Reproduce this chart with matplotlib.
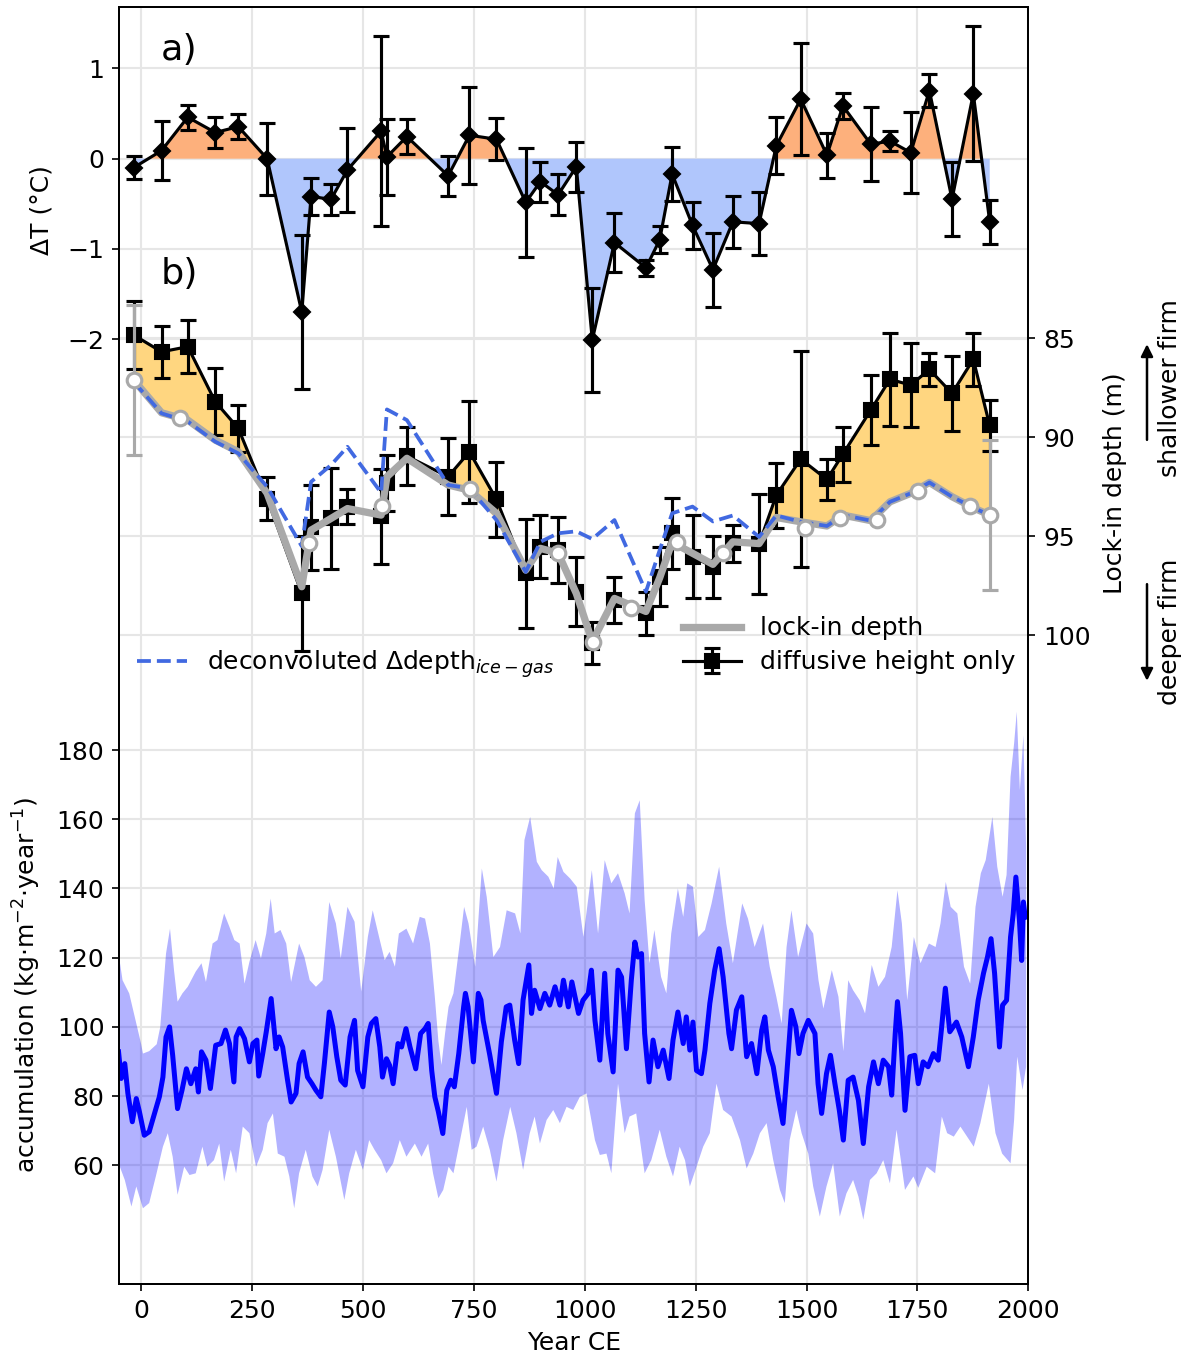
import numpy as np
import matplotlib
matplotlib.use('Agg')
import matplotlib.pyplot as plt

# ---- panel a/b: sample ages (Year CE) ----
years = [-17, 46, 105, 167, 219, 284, 362, 383, 428, 465,
         541, 554, 599, 692, 740, 801, 867, 900, 940, 981,
         1017, 1067, 1138, 1169, 1197, 1243, 1289, 1334, 1393, 1432,
         1487, 1546, 1582, 1645, 1688, 1735, 1777, 1828, 1876, 1913]

# a) temperature anomaly
dT = [-0.10, 0.09, 0.46, 0.29, 0.355, 0.0, -1.70, -0.42, -0.45, -0.125,
      0.305, 0.02, 0.245, -0.19, 0.26, 0.215, -0.485, -0.255, -0.40, -0.09,
      -2.01, -0.93, -1.21, -0.90, -0.17, -0.74, -1.23, -0.70, -0.72, 0.145,
      0.66, 0.04, 0.585, 0.16, 0.195, 0.067, 0.755, -0.45, 0.72, -0.70]
dT_err = [0.13, 0.33, 0.14, 0.17, 0.135, 0.40, 0.85, 0.205, 0.17, 0.47,
          1.05, 0.425, 0.195, 0.22, 0.54, 0.235, 0.60, 0.22, 0.23, 0.275,
          0.58, 0.325, 0.09, 0.15, 0.30, 0.26, 0.41, 0.285, 0.35, 0.32,
          0.62, 0.25, 0.14, 0.41, 0.11, 0.45, 0.18, 0.41, 0.75, 0.245]

# b) lock-in depth
depth_diff = [84.83, 85.68, 85.42, 88.2, 89.55, 93.1, 97.89, 94.55, 94.1, 93.5,
              94.0, 92.3, 90.95, 91.99, 90.73, 93.14, 96.88, 95.53, 95.7, 97.8,
              100.4, 98.22, 98.9, 97.04, 94.85, 96.03, 96.54, 95.36, 95.4, 92.92,
              91.1, 92.13, 90.85, 88.62, 87.07, 87.36, 86.57, 87.78, 86.06, 89.4]
depth_diff_err = [1.73, 1.32, 1.35, 1.68, 1.18, 1.07, 2.9, 2.15, 2.57, 0.9,
                  2.4, 1.4, 1.47, 1.94, 2.57, 1.9, 2.74, 1.6, 1.66, 1.75,
                  1.05, 1.18, 1.1, 1.5, 1.8, 2.1, 1.56, 0.93, 2.53, 1.64,
                  5.45, 1.05, 1.39, 1.77, 2.36, 2.13, 0.84, 1.91, 1.35, 1.3]
depth_lockin = [87.1, 88.76, 89.13, 90.14, 90.73, 92.83, 97.55, 94.69, 94.1, 93.6,
                93.93, 91.99, 91.06, 92.41, 92.67, 93.84, 96.71, 95.61, 95.86, 97.89,
                100.33, 98.14, 98.8, 97.1, 95.3, 95.86, 96.42, 95.28, 95.37, 94.05,
                94.27, 94.48, 93.93, 94.21, 93.26, 92.83, 92.28, 93.0, 93.56, 93.93]
depth_deconv = [87.19, 88.79, 89.2, 90.22, 90.81, 92.5, 95.5, 92.25, 91.4, 90.48,
                92.8, 88.59, 89.13, 92.41, 92.58, 94.18, 96.8, 95.28, 94.85, 94.75,
                95.14, 94.18, 97.8, 95.7, 93.84, 93.5, 94.25, 93.95, 95.03, 93.95,
                94.27, 94.48, 93.93, 94.21, 93.26, 92.83, 92.28, 93.0, 93.56, 93.93]
circ_years = [-17, 87, 379, 544, 741, 940, 1019, 1105, 1207, 1312,
              1496, 1575, 1659, 1752, 1869, 1913]
circ_depth = [87.1, 89.04, 95.36, 93.47, 92.63, 95.86, 100.33, 98.6, 95.28, 95.86,
              94.57, 94.07, 94.18, 92.7, 93.47, 93.93]
circ_err_years = [-17, 1913]
circ_err_depth = [87.1, 93.93]
circ_err = [3.8, 3.8]

# ---- panel c: accumulation ----
acc_years = [-51, -45, -37, -30, -20, -11, -4, 7, 18, 30, 41, 49, 56, 64, 71, 82, 92, 102, 112, 123,
             129, 136, 146, 156, 168, 180, 190, 199, 209, 214, 222, 233, 244, 252, 261, 265, 274, 282, 293, 304,
             311, 319, 330, 338, 349, 356, 365, 375, 385, 394, 405, 413, 424, 432, 441, 450, 460, 471, 481, 488,
             500, 511, 519, 529, 538, 544, 553, 560, 568, 579, 587, 597, 606, 619, 630, 640, 647, 655, 662, 670,
             680, 689, 698, 706, 716, 727, 731, 737, 749, 760, 766, 771, 786, 801, 812, 823, 831, 842, 851, 861,
             874, 880, 887, 899, 910, 921, 933, 944, 952, 963, 971, 986, 996, 1008, 1015, 1023, 1034, 1045, 1052, 1064,
             1075, 1083, 1094, 1105, 1113, 1120, 1128, 1135, 1145, 1154, 1165, 1177, 1190, 1199, 1210, 1222, 1229, 1237, 1244, 1252,
             1263, 1271, 1282, 1293, 1303, 1312, 1325, 1331, 1342, 1354, 1365, 1376, 1388, 1399, 1406, 1414, 1425, 1436, 1447, 1455,
             1466, 1476, 1483, 1492, 1504, 1519, 1526, 1534, 1545, 1554, 1564, 1574, 1583, 1594, 1605, 1617, 1628, 1640, 1651, 1662,
             1673, 1685, 1692, 1700, 1705, 1712, 1722, 1733, 1744, 1752, 1763, 1774, 1786, 1797, 1804, 1813, 1823, 1838, 1850, 1865,
             1876, 1887, 1899, 1908, 1916, 1924, 1935, 1942, 1951, 1960, 1966, 1972, 1980, 1985, 1989, 1993]
acc_mean = [92.8, 85.1, 89.4, 80.8, 72.6, 79.3, 75.5, 68.7, 69.7, 75.0, 79.8, 85.5, 97.1, 100.0, 91.8, 76.4, 81.7, 87.9, 83.6, 87.9,
            81.2, 92.8, 90.4, 82.2, 94.7, 95.2, 99.1, 95.2, 84.1, 97.1, 99.5, 96.6, 89.9, 95.2, 96.2, 85.8, 92.3, 98.6, 108.2, 93.7,
            97.1, 94.2, 84.6, 78.3, 80.8, 89.4, 92.8, 85.5, 83.6, 81.7, 79.8, 89.4, 104.3, 100.0, 91.4, 84.6, 83.2, 97.1, 101.9, 87.4,
            82.7, 97.1, 101.0, 102.4, 94.2, 85.5, 90.8, 88.9, 83.6, 95.2, 94.2, 99.5, 94.2, 87.9, 98.1, 99.5, 101.0, 87.4, 79.8, 75.5,
            69.2, 81.7, 84.6, 82.7, 92.3, 105.8, 109.7, 105.8, 89.9, 109.7, 107.8, 101.9, 91.8, 80.8, 95.7, 105.8, 106.3, 96.2, 89.4, 107.8,
            117.9, 103.9, 110.6, 105.3, 109.7, 106.3, 111.6, 106.3, 113.5, 105.8, 113.0, 103.9, 107.7, 109.7, 116.4, 101.9, 90.4, 115.5, 98.1, 87.0,
            116.4, 114.4, 93.7, 113.5, 124.5, 120.2, 121.2, 98.1, 84.1, 96.2, 88.5, 93.3, 85.1, 96.2, 104.3, 95.2, 102.9, 93.3, 101.4, 87.4,
            86.5, 93.3, 106.8, 116.4, 122.6, 114.4, 98.1, 93.7, 104.9, 108.7, 91.4, 95.2, 86.5, 99.1, 102.9, 93.3, 88.5, 79.8, 72.1, 85.5,
            104.8, 100.0, 92.3, 98.1, 101.9, 98.1, 83.6, 75.0, 86.5, 91.8, 83.6, 75.9, 67.3, 84.6, 85.5, 78.8, 66.3, 82.7, 89.9, 83.6,
            90.4, 88.5, 80.3, 98.1, 107.3, 98.1, 75.9, 91.4, 91.8, 83.6, 89.9, 88.5, 92.3, 90.4, 99.1, 111.2, 98.6, 101.4, 97.1, 88.5,
            97.1, 107.7, 115.5, 120.2, 125.5, 115.5, 94.2, 106.3, 107.7, 126.0, 132.7, 143.3, 130.8, 119.2, 136.1, 131.7]

acc_up_years = [-51, -42, -27, -11, 0, 4, 18, 35, 43, 56, 65, 74, 82, 93, 105, 123, 136, 146, 161, 172,
                187, 199, 210, 222, 233, 244, 258, 270, 282, 292, 301, 314, 327, 338, 356, 368, 380, 394, 409, 424,
                439, 450, 465, 481, 496, 511, 522, 538, 549, 560, 572, 581, 598, 613, 628, 640, 651, 662, 670, 677,
                685, 693, 704, 719, 728, 738, 753, 768, 779, 794, 809, 824, 843, 855, 864, 877, 892, 903, 918, 930,
                939, 952, 967, 982, 997, 1016, 1030, 1045, 1060, 1075, 1090, 1101, 1113, 1124, 1135, 1146, 1157, 1172, 1184, 1195,
                1210, 1222, 1231, 1244, 1256, 1271, 1286, 1303, 1319, 1334, 1355, 1368, 1383, 1402, 1417, 1432, 1444, 1455, 1466, 1481,
                1500, 1515, 1527, 1538, 1557, 1572, 1583, 1594, 1605, 1620, 1632, 1647, 1662, 1677, 1692, 1705, 1715, 1727, 1742, 1757,
                1776, 1791, 1802, 1814, 1825, 1840, 1855, 1869, 1881, 1893, 1904, 1919, 1930, 1942, 1951, 1960, 1968, 1974, 1981, 1989,
                1995]
acc_up = [121.2, 113.5, 109.7, 101.0, 95.0, 92.3, 93.0, 95.0, 100.0, 121.2, 128.4, 116.4, 107.3, 109.7, 111.6, 116.0, 118.4, 113.0, 124.1, 125.1,
          132.8, 128.9, 125.1, 124.1, 112.5, 118.8, 125.1, 119.8, 127.0, 137.1, 127.0, 128.0, 124.1, 113.0, 124.1, 120.2, 113.5, 111.6, 113.5, 136.1,
          129.9, 119.8, 134.7, 130.4, 110.2, 126.0, 133.7, 125.1, 119.3, 121.7, 117.4, 127.0, 128.4, 124.1, 131.8, 131.3, 124.1, 108.7, 96.0, 89.0,
          98.0, 105.8, 109.7, 125.1, 134.7, 129.9, 117.4, 145.8, 137.6, 120.2, 123.1, 133.7, 132.8, 127.0, 154.0, 160.7, 147.7, 145.3, 143.4, 140.0,
          149.1, 144.8, 142.9, 140.5, 126.0, 145.3, 127.0, 148.2, 141.5, 144.4, 138.6, 132.8, 161.7, 165.5, 136.7, 118.4, 128.0, 114.5, 109.7, 127.0,
          140.0, 131.8, 141.5, 140.5, 126.0, 128.0, 135.7, 146.3, 129.9, 118.4, 135.7, 131.3, 123.1, 129.9, 117.4, 108.7, 101.0, 123.1, 133.7, 120.2,
          129.9, 127.0, 113.5, 105.3, 116.4, 108.7, 93.0, 113.5, 110.6, 107.7, 103.9, 117.9, 111.6, 114.5, 123.1, 139.5, 129.9, 107.7, 126.0, 118.4,
          124.1, 123.1, 129.9, 141.9, 134.7, 132.8, 117.4, 112.5, 134.7, 144.4, 148.2, 160.7, 146.3, 137.6, 143.9, 172.3, 181.9, 191.1, 168.4, 184.3,
          152.1]

acc_lo_years = [-51, -37, -22, -11, 4, 18, 33, 49, 60, 71, 82, 97, 109, 123, 138, 149, 164, 176, 187, 202,
                214, 229, 244, 259, 274, 285, 297, 308, 323, 334, 345, 356, 371, 386, 398, 409, 424, 439, 458, 469,
                484, 500, 514, 526, 541, 553, 568, 583, 598, 617, 632, 647, 658, 670, 681, 693, 704, 719, 734, 745,
                756, 771, 786, 801, 816, 832, 846, 861, 876, 887, 899, 914, 929, 944, 959, 974, 989, 1004, 1023, 1034,
                1049, 1060, 1075, 1090, 1101, 1116, 1135, 1150, 1169, 1184, 1199, 1214, 1226, 1237, 1252, 1267, 1282, 1297, 1312, 1331,
                1350, 1365, 1380, 1395, 1410, 1425, 1440, 1451, 1462, 1477, 1489, 1504, 1515, 1530, 1545, 1560, 1575, 1590, 1605, 1617,
                1628, 1643, 1658, 1673, 1688, 1703, 1722, 1741, 1752, 1771, 1790, 1805, 1817, 1832, 1847, 1862, 1877, 1892, 1911, 1926,
                1941, 1960, 1968, 1975, 1987, 1995]
acc_lo = [60.6, 55.8, 48.1, 53.9, 47.6, 49.1, 56.8, 65.4, 69.3, 62.5, 51.5, 59.6, 57.2, 57.7, 65.4, 59.6, 61.5, 66.3, 55.3, 64.5,
          57.7, 71.2, 69.3, 59.6, 64.5, 72.2, 75.0, 63.4, 62.5, 56.8, 47.6, 57.7, 64.5, 56.8, 53.9, 58.7, 70.3, 62.5, 50.0, 57.7,
          64.5, 58.7, 67.3, 64.5, 61.5, 57.7, 60.6, 67.3, 62.5, 66.3, 62.5, 66.3, 57.7, 50.5, 52.9, 59.6, 57.7, 67.3, 76.9, 64.5,
          65.4, 71.2, 64.5, 55.3, 67.3, 76.9, 69.3, 58.7, 69.3, 74.1, 66.3, 73.1, 76.0, 72.2, 76.9, 76.0, 79.8, 80.8, 67.3, 63.0,
          63.4, 57.7, 83.6, 69.3, 74.1, 75.0, 57.7, 61.5, 70.3, 62.5, 56.8, 65.4, 61.5, 53.9, 59.6, 65.4, 69.3, 83.6, 76.0, 74.1,
          67.3, 59.1, 63.4, 69.3, 72.2, 61.5, 52.9, 49.1, 67.3, 76.0, 69.3, 63.4, 53.9, 45.2, 53.9, 60.6, 45.2, 51.9, 55.8, 51.0,
          44.3, 55.8, 57.7, 61.5, 54.8, 70.3, 52.9, 56.8, 53.5, 59.6, 57.7, 74.1, 69.3, 68.3, 71.2, 68.3, 65.4, 72.2, 83.6, 69.3,
          63.4, 60.6, 73.1, 91.4, 81.8, 88.5]

W, H, DPI = 1190, 1361, 150
fig = plt.figure(figsize=(W / DPI, H / DPI), dpi=DPI)
rect = [119 / W, 1 - 1284.3 / H, (1028.3 - 119) / W, (1284.3 - 6.7) / H]
gridc = '#e6e6e6'
fs = 12

# bottom axes: accumulation (also carries the grid)
ax_acc = fig.add_axes(rect)
ax_acc.set_xlim(-50, 2000)
ax_acc.set_ylim(25.63, 394.8)
ax_acc.set_xticks(np.arange(0, 2001, 250))
ax_acc.set_yticks(np.arange(60, 181, 20))
ax_acc.set_axisbelow(True)
ax_acc.grid(True, color=gridc, lw=1.0)
band_x = np.concatenate([acc_up_years, acc_lo_years[::-1]])
band_y = np.concatenate([acc_up, acc_lo[::-1]])
ax_acc.fill(band_x, band_y, color='blue', alpha=0.3, lw=0, zorder=1)
ax_acc.plot(acc_years, acc_mean, color='blue', lw=2.4, zorder=2)
ax_acc.tick_params(labelsize=fs)
ax_acc.set_xlabel('Year CE', fontsize=fs)
ax_acc.set_ylabel('accumulation (kg$\\cdot$m$^{-2}$$\\cdot$year$^{-1}$)', fontsize=fs)
ax_acc.yaxis.set_label_coords(-0.084, 0.234)

# ΔT axes
ax_t = fig.add_axes(rect, sharex=ax_acc)
ax_t.patch.set_visible(False)
ax_t.set_ylim(-12.48, 1.685)
ax_t.set_yticks([-2, -1, 0, 1])
ax_t.tick_params(labelsize=fs, bottom=False, labelbottom=False)
ax_t.set_ylabel('ΔT (°C)', fontsize=fs)
ax_t.yaxis.set_label_coords(-0.072, 0.841)

# lock-in depth axes
ax_d = ax_t.twinx()
ax_d.set_ylim(132.8, 68.24)
ax_d.set_yticks([85, 90, 95, 100])
ax_d.tick_params(labelsize=fs)
ax_d.set_ylabel('Lock-in depth (m)', fontsize=fs)
ax_d.yaxis.set_label_coords(1.082, 0.627)

# horizontal grid lines of the upper panels, drawn in the bottom axes
for t in ax_t.get_yticks():
    ax_acc.plot([0, 1], [t, t], transform=ax_t.get_yaxis_transform(), color=gridc, lw=1.0, zorder=0.5)
for t in ax_d.get_yticks():
    ax_acc.plot([0, 1], [t, t], transform=ax_d.get_yaxis_transform(), color=gridc, lw=1.0, zorder=0.5)

# panel a
dT_a = np.array(dT)
ax_t.fill_between(years, dT_a, 0, where=dT_a > 0, interpolate=True, color='#fdb07c', lw=0, zorder=1)
ax_t.fill_between(years, dT_a, 0, where=dT_a < 0, interpolate=True, color='#b0c6fc', lw=0, zorder=1)
ax_t.errorbar(years, dT, yerr=dT_err, fmt='-D', color='k', ms=5.5, lw=1.5,
              elinewidth=1.5, capsize=4, capthick=1.5, zorder=3)

# panel b
dd = np.array(depth_diff)
dc = np.array(depth_deconv)
ax_d.fill_between(years, dd, dc, where=dd < dc, interpolate=True, color='#ffd680', lw=0, zorder=1)
eb = ax_d.errorbar(years, depth_diff, yerr=depth_diff_err, fmt='-s', color='k', ms=6.5, lw=1.5,
                   elinewidth=1.5, capsize=4, capthick=1.5, zorder=2, label='diffusive height only')
ln_gray, = ax_d.plot(years, depth_lockin, color='darkgray', lw=3.5, zorder=3, label='lock-in depth')
ax_d.errorbar(circ_err_years, circ_err_depth, yerr=circ_err, fmt='none', ecolor='darkgray',
              elinewidth=1.5, capsize=4, capthick=1.5, zorder=3)
ln_blue, = ax_d.plot(years, depth_deconv, color='royalblue', lw=1.8, ls='--', zorder=4,
                     label='deconvoluted Δdepth$_{ice-gas}$')
ax_d.plot(circ_years, circ_depth, 'o', mfc='white', mec='darkgray', ms=7, mew=1.5, zorder=5)

leg1 = ax_d.legend(handles=[ln_blue], loc='center left', bbox_to_anchor=(137 / W, 1 - 664 / H),
                   bbox_transform=fig.transFigure, frameon=False, fontsize=fs, borderpad=0, borderaxespad=0)
ax_d.add_artist(leg1)
ax_d.legend(handles=[ln_gray, eb], loc='center left', bbox_to_anchor=(683 / W, 1 - 645.5 / H),
            bbox_transform=fig.transFigure, frameon=False, fontsize=fs, borderpad=0, borderaxespad=0,
            labelspacing=0.4, handlelength=2.3)

# panel letters
ax_t.text(161 / W, 1 - 50 / H, 'a)', transform=fig.transFigure, fontsize=17.5, va='center')
ax_t.text(161 / W, 1 - 274 / H, 'b)', transform=fig.transFigure, fontsize=17.5, va='center')

# firm direction arrows
fig.text(1170 / W, 1 - 388 / H, 'shallower firm', rotation=90, ha='center', va='center', fontsize=fs)
fig.text(1170 / W, 1 - 632 / H, 'deeper firm', rotation=90, ha='center', va='center', fontsize=fs)
ax_d.annotate('', xy=(1147 / W, 1 - 340 / H), xytext=(1147 / W, 1 - 444 / H),
              xycoords='figure fraction', textcoords='figure fraction',
              arrowprops=dict(arrowstyle='-|>', color='k', lw=1.2, mutation_scale=12))
ax_d.annotate('', xy=(1147 / W, 1 - 685 / H), xytext=(1147 / W, 1 - 580 / H),
              xycoords='figure fraction', textcoords='figure fraction',
              arrowprops=dict(arrowstyle='-|>', color='k', lw=1.2, mutation_scale=12))

fig.savefig('out.png', dpi=DPI)
